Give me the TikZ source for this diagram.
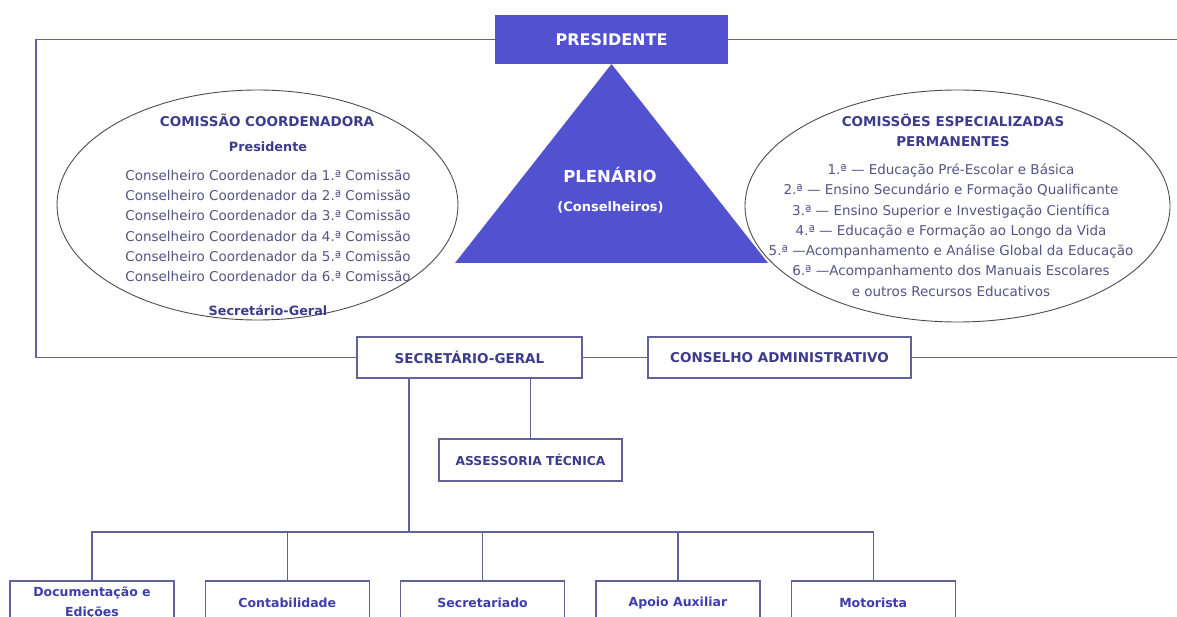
\documentclass[tikz,border=0pt]{standalone}
\usepackage{fontspec}
\setmainfont{DejaVu Sans}
\usetikzlibrary{positioning,shapes.geometric}
\definecolor{plenblue}{RGB}{82,82,208}
\definecolor{framegray}{RGB}{98,98,152}
\definecolor{headblue}{RGB}{60,60,140}
\definecolor{listgray}{RGB}{84,84,132}
\definecolor{unitblue}{RGB}{62,62,172}
\tikzset{
  link/.style={draw=framegray, line width=1.3pt},
  orgbox/.style={draw=framegray, line width=1.3pt, fill=white, text=headblue, font=\bfseries\fontsize{13.5}{16}\selectfont, minimum height=41pt, inner sep=0pt},
  topbox/.style={fill=plenblue, text=white, font=\bfseries\fontsize{16}{18}\selectfont, minimum width=233pt, minimum height=49pt, inner sep=0pt},
  unitbox/.style={draw=framegray, line width=1.3pt, fill=white, text=unitblue, font=\bfseries\fontsize{12.5}{20}\selectfont, align=center, minimum width=164pt, minimum height=44pt, inner sep=0pt},
  commring/.style={ellipse, draw=black!70, line width=0.9pt, inner sep=0pt},
  heading/.style={text=headblue, font=\bfseries\fontsize{13.5}{20}\selectfont, align=center},
  subhead/.style={text=headblue, font=\bfseries\fontsize{12.8}{14}\selectfont},
  listline/.style={text=listgray, font=\fontsize{13.5}{20.3}\selectfont, align=center},
  plentext/.style={text=white, font=\bfseries\fontsize{16.5}{18}\selectfont},
}
\begin{document}
\begin{tikzpicture}[x=1pt,y=-1pt]
\useasboundingbox (0,0) rectangle (1177,617);
\clip (0,0) rectangle (1177,617);

%Comissions
\node[commring, minimum width=401pt, minimum height=230pt] (coord) at (257.5,205) {};
\node[commring, minimum width=425pt, minimum height=232pt] (perm) at (957.5,206) {};

%Plenario
\coordinate (apex) at (611.5,64);
\fill[plenblue] (455,263) -- (apex) -- (768,263) -- cycle;
\node[plentext] (plen) at (610,175) {PLENÁRIO};
\node[plentext, font=\bfseries\fontsize{13}{14}\selectfont] (consel) at (610.5,207) {(Conselheiros)};

%Comissao coordenadora
\node[heading] (coordtitle) at (267,120) {COMISSÃO COORDENADORA};
\node[subhead] (coordpres) at (268,147) {Presidente};
\node[listline] (coordlist) at (268,226) {Conselheiro Coordenador da 1.ª Comissão\\
  Conselheiro Coordenador da 2.ª Comissão\\
  Conselheiro Coordenador da 3.ª Comissão\\
  Conselheiro Coordenador da 4.ª Comissão\\
  Conselheiro Coordenador da 5.ª Comissão\\
  Conselheiro Coordenador da 6.ª Comissão};
\node[subhead] (coordsg) at (268,310) {Secretário-Geral};

%Comissoes especializadas
\node[heading] (permtitle) at (953,130) {COMISSÕES ESPECIALIZADAS\\PERMANENTES};
\node[listline] (permlist) at (951,230) {1.ª — Educação Pré-Escolar e Básica\\
  2.ª — Ensino Secundário e Formação Qualificante\\
  3.ª — Ensino Superior e Investigação Científica\\
  4.ª — Educação e Formação ao Longo da Vida\\
  5.ª —Acompanhamento e Análise Global da Educação\\
  6.ª —Acompanhamento dos Manuais Escolares\\
  e outros Recursos Educativos};

%Boxes
\node[topbox] (pres) at (611.5,39.5) {PRESIDENTE};
\node[orgbox, minimum width=225pt] (sg) at (469.5,357.5) {SECRETÁRIO-GERAL};
\node[orgbox, minimum width=263pt] (cons) at (779.5,357.5) {CONSELHO ADMINISTRATIVO};
\node[orgbox, minimum width=183pt, minimum height=42pt, font=\bfseries\fontsize{12.3}{14}\selectfont] (assess) at (530.5,460) {ASSESSORIA TÉCNICA};

\node[unitbox] (doc) at (92,603) {Documentação e\\Edições};
\node[unitbox] (cont) [right=30pt of doc] {Contabilidade};
\node[unitbox] (secr) [right=30pt of cont] {Secretariado};
\node[unitbox] (apoio) [right=30pt of secr] {Apoio Auxiliar};
\node[unitbox] (motor) [right=30pt of apoio] {Motorista};

%Lines
\coordinate (frameL) at (36,357.5);
\coordinate (edgeR) at (1180,357.5);
\coordinate (trunk) at (409,532);
\draw[link] (pres.west) -| (frameL) -- (sg.west);
\draw[link] (pres.east) -- (pres.east -| edgeR);
\draw[link] (sg.east) -- (cons.west);
\draw[link] (cons.east) -- (edgeR);
\draw[link] (sg.south -| assess.north) -- (assess.north);
\draw[link] (sg.south -| trunk) -- (trunk);
\draw[link] (doc.north) -- (doc.north |- trunk) -| (motor.north);
\foreach \unit in {cont,secr,apoio}
  \draw[link] (\unit.north) -- (\unit.north |- trunk);
\end{tikzpicture}
\end{document}
